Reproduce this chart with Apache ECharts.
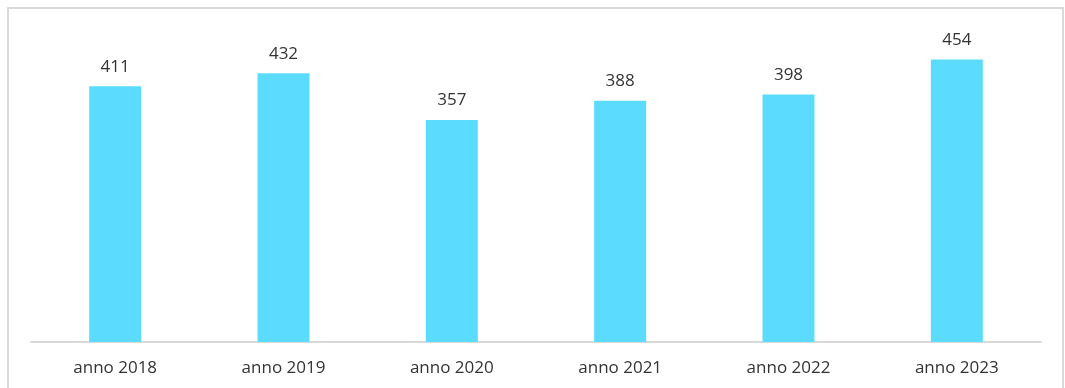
<!DOCTYPE html>
<html><head><meta charset="utf-8">
<script src="https://cdn.jsdelivr.net/npm/echarts@6/dist/echarts.min.js"></script>
<style>html,body{margin:0;padding:0;background:#fff}#c{width:1065px;height:388px}</style>
</head><body><div id="c"></div>
<script>
var categories = ['anno 2018','anno 2019','anno 2020','anno 2021','anno 2022','anno 2023'];
var values = [411, 432, 357, 388, 398, 454];
var chart = echarts.init(document.getElementById('c'));
chart.setOption({
  animation: false,
  graphic: [{type:'rect', shape:{x:8,y:8,width:1055,height:420}, style:{fill:'none', stroke:'#d9d9d9', lineWidth:2}, silent:true}],
  grid: {left:31, right:24, top:31, bottom:46},
  xAxis: {type:'category', data:categories,
    axisLine:{lineStyle:{color:'#d9d9d9', width:2}}, axisTick:{show:false},
    axisLabel:{color:'#333333', fontSize:17, fontFamily:'Open Sans', margin:18}},
  yAxis: {type:'value', min:0, max:500, show:false, splitLine:{show:false}},
  series: [{type:'bar', data:values, barWidth:52,
    itemStyle:{color:'#5BDCFE'},
    label:{show:true, position:'top', distance:11, color:'#333333', fontSize:17, fontFamily:'Open Sans'}}]
});
</script></body></html>
